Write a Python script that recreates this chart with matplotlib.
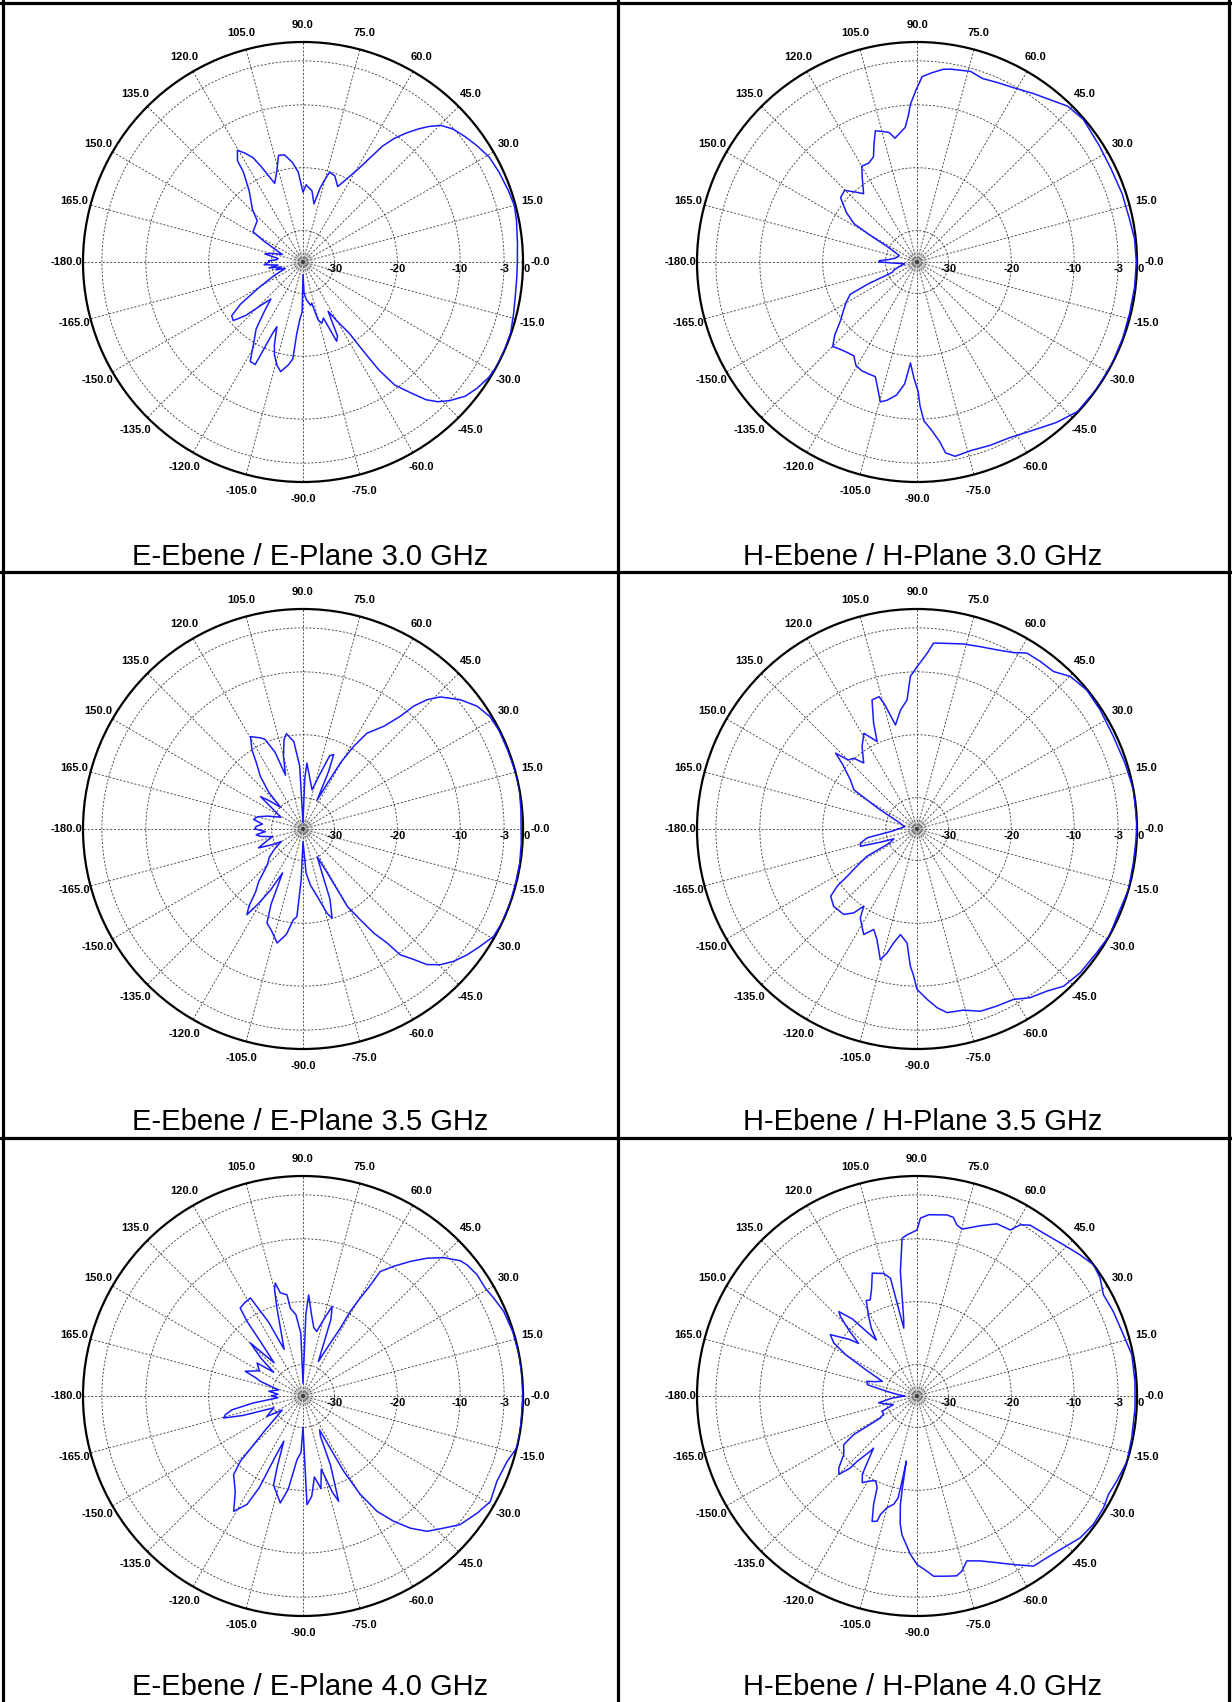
import numpy as np
import matplotlib
matplotlib.use('Agg')
import matplotlib.pyplot as plt

plt.rcParams['font.family'] = ['Liberation Sans', 'DejaVu Sans']

e30 = [(-180, -29.6), (-176, -28.8), (-173, -31), (-170, -29.5), (-167, -31.5), (-164, -30.5),
       (-160, -32), (-155, -30), (-150, -27), (-146, -23), (-143, -20.8), (-140, -20.5),
       (-137, -22.5), (-134, -25.5), (-131, -27.2), (-128, -25), (-125, -22), (-121, -19.7),
       (-118, -17.1), (-115, -17), (-113, -22.8), (-112, -23.9), (-109, -21), (-107, -19.5),
       (-104, -18), (-101.5, -17.2), (-98, -18.5), (-96, -19.5), (-95, -23.5), (-93, -26),
       (-91, -27), (-90, -33), (-88, -30), (-85, -29), (-80, -28), (-78, -28.3), (-75.4, -25.5),
       (-73, -24.8), (-70, -25.5), (-67, -21.3), (-65, -22), (-63, -26.2), (-60, -24.1),
       (-57, -21.5), (-56.2, -19), (-55.5, -16.5), (-54.9, -14), (-53.3, -10.6), (-50.6, -8.1),
       (-48.2, -5.6), (-46, -4.1), (-43.4, -2.9), (-39.6, -1.5), (-36, -0.8), (-31.8, -0.2),
       (-28.3, 0), (-23.9, 0), (-18.8, -0.1), (-13.8, -0.5), (-8.9, -0.8), (-3.9, -0.9),
       (0, -0.9), (5, -0.75), (11, -0.4), (14.9, -0.2), (19.1, -0.4), (24.7, -0.7), (29.4, -1.0),
       (33.7, -1.7), (37.7, -2.4), (41.5, -3.1), (44.7, -4.1), (47, -5.5), (49.1, -7.0),
       (51.3, -8.7), (53.5, -10.5), (55.5, -12.6), (57.1, -15.1), (59.1, -17.6), (62, -19.9),
       (65.3, -21.8), (69.7, -20.4), (73.5, -20.1), (75.5, -21.7), (77, -23), (79.3, -25.6),
       (82.8, -23.6), (87.7, -22.7), (90, -23.9), (93, -20.7), (96, -19.1), (99.8, -17.7),
       (102.9, -17.6), (106.3, -20.1), (109.8, -21.7), (113.7, -18.4), (115.6, -16.6),
       (118, -15.4), (120.4, -14.4), (122.9, -15.8), (123.5, -17.8), (127.1, -20.8),
       (133.9, -23.4), (138, -25.2), (148.8, -25.7), (152, -28), (156.3, -30.4), (160, -31.5),
       (164, -30), (168, -28.8), (172, -31), (175, -30.8), (178, -29.5)]

h30 = [(-180, -29), (-177, -31.5), (-172, -33), (-165, -32), (-160, -31), (-157.3, -30.8),
       (-155.9, -26.7), (-154.2, -23.2), (-150.6, -22.1), (-146, -20.8), (-142.6, -19.7),
       (-138.4, -17.5), (-134.9, -16.0), (-132.3, -16.4), (-128, -16.8), (-123.9, -17.0),
       (-120.6, -15.9), (-117, -15.6), (-113, -15.6), (-110, -15.6), (-107.5, -14.1),
       (-104.7, -12.0), (-102.2, -12.5), (-98.7, -13.6), (-95.8, -15.5), (-93.7, -18.9),
       (-91.5, -16.5), (-89.5, -14.4), (-88.8, -12.1), (-87.5, -9.7), (-85, -8.1), (-82.8, -6.2),
       (-81.5, -4.3), (-78.9, -3.5), (-74.1, -3.8), (-68.3, -3.6), (-62.2, -3.4), (-55.5, -2.5),
       (-49.1, -1.2), (-43, -0.1), (-35.4, 0), (-27.6, 0), (-20.4, -0.1), (-13.5, -0.2),
       (-6.5, -0.15), (0, -0.1), (6.1, -0.2), (11.2, -0.5), (18.4, -0.6), (25.9, -0.75),
       (32.6, -0.6), (40.6, -0.15), (45.9, -0.5), (51.1, -1.7), (55.5, -2.45), (61, -3.3),
       (65.7, -3.7), (70.4, -4.0), (74.3, -3.5), (80, -3.85), (82.2, -4.05), (85.5, -4.8),
       (88.4, -5.5), (90.3, -7.6), (92.4, -9.9), (93.4, -11.7), (95, -13.5), (100.1, -15.0),
       (102.2, -13.9), (105, -13.5), (107.6, -13.1), (110, -15), (112.5, -16.9), (116, -17.5),
       (119.9, -17.4), (123, -19), (128, -21.2), (131.9, -20.0), (135.3, -18.8), (139.9, -19.1),
       (145, -21.3), (148.7, -23.3), (150.2, -26.3), (153, -30), (160, -32), (170, -31.5),
       (175, -30.5), (178, -29)]

e35 = [(-180, -27.4), (-176, -29), (-173, -27.5), (-170, -28.2), (-166, -30), (-162, -29),
       (-157, -27.3), (-153, -29.5), (-150, -31), (-145, -29.5), (-140, -28), (-135, -27),
       (-130, -24), (-127, -22.5), (-125, -20), (-123.2, -18.7), (-121, -21), (-118, -24),
       (-115, -27.3), (-113, -22), (-111, -19), (-107, -18), (-102.8, -16.4), (-99, -18),
       (-96, -20.5), (-94, -21), (-92, -27), (-90, -33), (-86, -28), (-82.5, -26), (-78, -24),
       (-74, -21), (-71.9, -20.1), (-69, -23), (-66, -28), (-63, -30), (-61, -27), (-60.5, -24),
       (-60.2, -20.8), (-57.7, -17.9), (-55.8, -15), (-53.6, -12.5), (-52.3, -9.7),
       (-49.7, -7.8), (-47.6, -5.8), (-44.7, -4.3), (-41.3, -3.1), (-37.5, -2.1), (-33.5, -1.2),
       (-29.4, -0.2), (-25.1, 0), (-19.4, 0), (-14, -0.1), (-8.9, -0.1), (-3.7, -0.2), (0, -0.3),
       (5, -0.2), (10.3, 0), (14.7, 0), (21, -0.1), (26.7, -0.1), (31, -0.3), (35.2, -1.1),
       (39.4, -2.6), (43.9, -4.7), (46.2, -6.5), (48, -8.7), (49.2, -11.3), (51.8, -14.2),
       (56.3, -16.7), (58.5, -19.6), (60.5, -22.9), (62, -27), (64, -29.9), (66, -25),
       (67.6, -22.2), (70, -22.6), (73, -26), (77, -28.6), (82, -27), (86.6, -24.5), (88, -27),
       (90, -34), (93, -25), (96, -21), (99.9, -19.6), (102, -20.5), (105, -23), (108, -26),
       (110, -22), (113, -19.5), (115, -19.0), (119.6, -18.1), (122.8, -20), (125, -22),
       (129, -24.2), (133, -27), (136, -30), (140, -28), (142.7, -26.5), (146, -29), (152, -31),
       (160, -29), (165, -27.5), (169, -27), (173, -28.5), (177, -27.5)]

h35 = [(-180, -32), (-175, -31), (-170, -27), (-166, -25.7), (-163, -25.6), (-160, -29),
       (-157, -31), (-153, -30.2), (-151.4, -25.9), (-148, -23.5), (-145.9, -21.6),
       (-144.4, -19.4), (-142.1, -17.6), (-137.1, -16.9), (-130.6, -17.1), (-127, -18.3),
       (-124.6, -20.1), (-122.5, -18.2), (-116.8, -16.2), (-113.3, -17.6), (-109.9, -16.3),
       (-105.7, -13.4), (-103.6, -14.7), (-101.6, -16.5), (-98.9, -18), (-95, -16.8),
       (-92.8, -13.2), (-91.3, -11.6), (-90, -9.5), (-86.6, -7.85), (-83.6, -6.4), (-80.7, -5.4),
       (-75.6, -5.25), (-70.8, -4.3), (-65.7, -4.1), (-60.5, -3.85), (-56.2, -2.7),
       (-51.3, -1.95), (-47, -0.8), (-41.4, -0.4), (-34.6, -0.3), (-29, 0), (-21.6, -0.25),
       (-16, 0), (-8.9, -0.17), (-2.8, -0.1), (1.6, 0), (10.3, 0), (17.6, -0.3), (25.2, -0.46),
       (33, -0.25), (39.3, -0.1), (44.9, -0.6), (49.1, -1.85), (53.6, -1.9), (58, -2.0),
       (61.3, -3.0), (66, -3.8), (70.9, -4.3), (75.9, -4.65), (81.8, -5.15), (84.9, -5.3),
       (86.7, -7.0), (90, -9.2), (92.5, -10.7), (94.4, -14.4), (97.9, -15.9), (101.7, -18.1),
       (104.5, -14.6), (106, -13.1), (109.2, -13.25), (112.3, -16.8), (114.5, -19.7),
       (119, -17.6), (123.6, -19.2), (128.9, -21.5), (131.8, -19.9), (135, -19.5), (137, -17.3),
       (139, -19.3), (143.5, -21.8), (148.2, -23.2), (152, -28), (160, -32), (170, -33)]

e40 = [(-180, -30), (-176, -31), (-172, -27), (-169, -23.5), (-166.5, -22.3), (-164.5, -21.9),
       (-162, -25), (-158, -30), (-153, -29), (-150.5, -28.4), (-146, -31), (-138, -27),
       (-133.8, -20.6), (-131.4, -18.3), (-125.4, -16.4), (-121, -13.6), (-117.3, -15.6),
       (-115.5, -18.9), (-114.5, -24.6), (-113, -27.2), (-110, -23), (-108.3, -20.1),
       (-102, -17.6), (-99, -20), (-95.4, -24.8), (-92, -26), (-90, -30), (-87.9, -17.7),
       (-85, -19), (-82, -22), (-79, -20), (-76, -23), (-73, -19), (-71.3, -17.3), (-68.3, -23.2),
       (-66.6, -28), (-64, -29), (-61.6, -21.4), (-59.8, -16.9), (-57.3, -13.2), (-54.1, -10.4),
       (-50.9, -7.9), (-47.5, -5.8), (-43.2, -4.3), (-39.3, -2.7), (-33.9, -1.6), (-29.4, -0.8),
       (-23.7, -1.3), (-17.8, -0.9), (-13.6, 0), (-8.3, 0), (-3, -0.1), (0, 0), (5.5, 0),
       (10.8, 0), (17, -0.1), (22.9, -0.35), (27.2, -0.9), (30.6, -1.3), (34.9, -1.25),
       (38.7, -1.6), (40.7, -2.0), (44.5, -3.6), (48, -5.5), (51.4, -7.6), (55, -9.8),
       (58.2, -11.7), (58.8, -14.75), (59.7, -16.9), (60.8, -19.6), (61.2, -22.7),
       (63.4, -26.5), (66, -29), (70, -22), (72, -20), (75, -22.5), (78, -24.5), (81, -24),
       (84, -22), (86.8, -18.9), (88, -22), (90, -33), (92, -25), (95, -22), (98.2, -20.9),
       (99, -18.7), (102.4, -18.2), (103.8, -16.5), (105, -17.5), (106.5, -20.4), (108.4, -23.6),
       (112, -27), (115, -22), (118.2, -17.3), (122, -17.5), (125.5, -17.8), (126.9, -20.2),
       (128, -24), (131, -28), (134.8, -23.1), (138, -26), (141, -29), (144.3, -26), (150, -27),
       (156.8, -25), (159, -27), (161, -27.8), (166, -31), (172, -29.5), (176, -31)]

h40 = [(-180, -33), (-175, -31), (-170, -28.8), (-165, -30), (-160, -31), (-156.4, -28.9),
       (-152, -29), (-149, -28.2), (-148.6, -23.2), (-146.4, -21), (-141.4, -20.1),
       (-137.4, -18.1), (-134.9, -17.4), (-132.8, -19.4), (-132.5, -20.9), (-130.2, -23.5),
       (-129.8, -24.2), (-126.7, -21.7), (-124.9, -19.8), (-122.3, -18.7), (-118.7, -19.6),
       (-116, -20), (-113.5, -19.1), (-111.8, -16.4), (-109.7, -13.8), (-107.7, -14.1),
       (-107.1, -15.3), (-105, -16.6), (-102.1, -17.4), (-100.5, -18.5), (-99.8, -22),
       (-99.3, -24.5), (-99, -20), (-98.7, -17.5), (-97.5, -14.5), (-96.2, -12.8),
       (-92.4, -9.8), (-90, -8.2), (-86.8, -7.1), (-84.7, -6.2), (-80, -5.9), (-77.5, -5.7),
       (-75.6, -6.25), (-73.2, -7.6), (-69, -6.9), (-64.4, -5.6), (-60.2, -4.1), (-55.6, -2.2),
       (-51.25, -2.0), (-46, -1.45), (-41, -0.6), (-36, -0.3), (-31, -0.4), (-27.2, -0.75),
       (-23.1, -0.46), (-17.3, 0), (-11, -0.2), (-3.1, -0.26), (3.8, -0.25), (10.9, -0.2),
       (16.5, -0.75), (23.3, -1.0), (28.5, -1.25), (32.8, -0.35), (36.6, 0), (40.9, -0.7),
       (45.9, -1.5), (51.1, -2.1), (56.5, -2.4), (58.9, -3.2), (60.7, -4.7), (65.1, -4.8),
       (69.6, -6.1), (74.9, -7.5), (76.9, -7.05), (78.5, -6.0), (80.6, -5.8), (86.3, -6.1),
       (88.9, -6.7), (90, -8.6), (93.5, -9.3), (95.4, -9.8), (97.6, -15), (99.9, -22.7),
       (101, -24), (102.7, -15.8), (105.2, -14.8), (110, -14.2), (113, -16.5), (116, -18),
       (118, -17.8), (121, -20), (124, -22), (126, -24), (128, -22), (130, -19), (132.8, -16.7),
       (134, -17.5), (136, -20), (138, -22.5), (140, -21), (144.7, -18.1), (147.5, -19.3),
       (150, -22), (153, -26), (157, -29), (161, -28), (163.6, -26.7), (167.2, -26.9),
       (171, -30), (176, -32)]

captions = ['E-Ebene / E-Plane 3.0 GHz', 'H-Ebene / H-Plane 3.0 GHz',
            'E-Ebene / E-Plane 3.5 GHz', 'H-Ebene / H-Plane 3.5 GHz',
            'E-Ebene / E-Plane 4.0 GHz', 'H-Ebene / H-Plane 4.0 GHz']
patterns = [e30, h30, e35, h35, e40, h40]

angle_ticks = [-180, -165, -150, -135, -120, -105, -90, -75, -60, -45, -30, -15,
               0, 15, 30, 45, 60, 75, 90, 105, 120, 135, 150, 165]
angle_labels = ['-180.0', '-165.0', '-150.0', '-135.0', '-120.0', '-105.0', '-90.0', '-75.0',
                '-60.0', '-45.0', '-30.0', '-15.0', '-0.0', '15.0', '30.0', '45.0', '60.0',
                '75.0', '90.0', '105.0', '120.0', '135.0', '150.0', '165.0']
ring_levels = [-30, -20, -10, -3]
ring_labels = ['-30', '-20', '-10', '-3', '0']
db_min = -35

# ---- layout (pixels) ----
W, H = 1232, 1702
R = 220
centers = [(303, 262), (917, 262), (303, 829), (917, 829), (303, 1396), (917, 1396)]
cap_pos = [(310, 557), (923, 557), (310, 1122), (923, 1122), (310, 1687), (923, 1687)]

fig = plt.figure(figsize=(W / 100, H / 100), dpi=100)

# table frame and captions
bg = fig.add_axes([0, 0, 1, 1])
bg.set_xlim(0, W)
bg.set_ylim(H, 0)
bg.axis('off')
lw_frame = 2.3
bg.plot([3, 3], [0, H], color='black', lw=lw_frame)
bg.plot([1229, 1229], [0, H], color='black', lw=lw_frame)
bg.plot([618, 618], [0, H], color='black', lw=lw_frame)
for yy in [3, 572, 1138]:
    bg.plot([0, W], [yy, yy], color='black', lw=lw_frame)
for (x, y), txt in zip(cap_pos, captions):
    bg.text(x, y, txt, ha='center', va='center', fontsize=21)

grid_kw = dict(color='#3a3a3a', lw=0.6, ls=(0, (2.5, 2)))
full = np.linspace(0, 2 * np.pi, 500)

for (cx, cy), pts in zip(centers, patterns):
    ax = fig.add_axes([(cx - R) / W, 1 - (cy + R) / H, 2 * R / W, 2 * R / H],
                      projection='polar')
    ax.set_ylim(db_min, 0)
    ax.set_xticks([])
    ax.set_yticks([])
    ax.grid(False)
    ax.patch.set_alpha(0)
    ax.spines['polar'].set_linewidth(1.6)

    for lev in ring_levels:
        ax.plot(full, np.full_like(full, lev), **grid_kw)
    for a in range(0, 360, 15):
        t = np.radians(a)
        ax.plot([t, t], [db_min, 0], **grid_kw)
    # dense hub of short spokes around the centre
    for a in range(0, 360, 5):
        t = np.radians(a)
        ax.plot([t, t], [db_min + 0.4, -33.3], color='#888888', lw=0.35, ls=(0, (1, 1.2)))

    ang = np.radians([p[0] for p in pts] + [pts[0][0]])
    lvl = np.clip([p[1] for p in pts] + [pts[0][1]], db_min, 0)
    ax.plot(ang, lvl, color='#1a1aff', lw=1.1, zorder=5)

    for a, lab in zip(angle_ticks, angle_labels):
        ax.text(np.radians(a), 2.7, lab, ha='center', va='center',
                fontsize=8, fontweight='bold')
    for lev, lab in zip(ring_levels + [0.6], ring_labels):
        ax.annotate(lab, xy=(0, lev), xytext=(0, -5), textcoords='offset points',
                    ha='center', va='center', fontsize=8, fontweight='bold',
                    annotation_clip=False)

fig.savefig('out.png', dpi=100)
